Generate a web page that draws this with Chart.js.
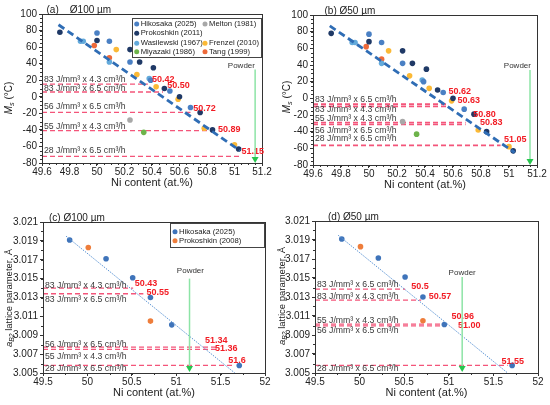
<!DOCTYPE html>
<html>
<head>
<meta charset="utf-8">
<script src="https://cdn.jsdelivr.net/npm/chart.js@4.4.0/dist/chart.umd.min.js"></script>
<style>
  body { margin: 0; background: #fff; width: 550px; height: 405px; position: relative; overflow: hidden; }
  .panel { position: absolute; }
</style>
</head>
<body>
<div class="panel" style="left:0;top:0;width:275px;height:200px"><canvas id="chartA"></canvas></div>
<div class="panel" style="left:275px;top:0;width:275px;height:200px"><canvas id="chartB"></canvas></div>
<div class="panel" style="left:0;top:200px;width:275px;height:205px"><canvas id="chartC"></canvas></div>
<div class="panel" style="left:275px;top:200px;width:275px;height:205px"><canvas id="chartD"></canvas></div>
<script>
// ---- Ms literature data, shared by panels (a) and (b) ----
var hikosakaNi = [50.0, 50.09, 50.24, 50.39, 50.53, 50.68];
var hikosakaMs = [77, 67, 42, 20, 7, -13];
var prok2011Ni = [49.73, 50.0, 50.24, 50.31, 50.41, 50.49, 50.60, 50.75, 50.84, 51.03];
var prok2011Ms = [78, 68, 57, 42, 35, 10, 0, -19, -40, -63];
var wasilewskiNi = [49.88, 49.90, 50.09, 50.38];
var wasilewskiMs = [67, 67, 42, 22];
var miyazakiNi = [50.34];
var miyazakiMs = [-43];
var meltonNi = [50.24];
var meltonMs = [-28];
var frenzelNi = [50.14, 50.29, 50.43, 50.59, 50.78, 51.0];
var frenzelMs = [57, 27, 12, -3, -38, -58];
var tangNi = [49.98, 50.09];
var tangMs = [62, 47];
var msFitNi = [49.72, 51.04];
var msFitMs = [87, -65];

// ---- B2 lattice parameter data, panels (c) and (d) ----
var latHikosakaNi = [49.80, 50.21, 50.51, 50.71, 50.95, 51.71];
var latHikosakaA = [3.0191, 3.0171, 3.0151, 3.0130, 3.0101, 3.0058];
var latProkNi = [50.01, 50.71];
var latProkA = [3.0183, 3.0105];
var latFitNi = [49.76, 51.66];
var latFitA = [3.0195, 3.005];

// ---- tick values ----
var msNiTicks = [49.6, 49.8, 50, 50.2, 50.4, 50.6, 50.8, 51, 51.2];
var msTicks = [-80, -60, -40, -20, 0, 20, 40, 60, 80, 100];
var latNiTicks = [49.5, 50, 50.5, 51, 51.5, 52];
var latTicks = [3.005, 3.007, 3.009, 3.011, 3.013, 3.015, 3.017, 3.019, 3.021];

// ---- printed parts: level, end of line, recipe, estimated Ni ----
var powderNi = 51.15;

var recipesA = ['83 J/mm³ x 4.3 cm³/h', '83 J/mm³ x 6.5 cm³/h', '56 J/mm³ x 6.5 cm³/h', '55 J/mm³ x 4.3 cm³/h', '28 J/mm³ x 6.5 cm³/h'];
var levelsA = [15.4, 5.8, -18.9, -41, -72];
var levelEndsA = [50.37, 50.48, 50.68, 50.85, 51.04];
var niTextA = ['50.42', '50.50', '50.72', '50.89', '51.15'];

var recipesB = ['83 J/mm³ x 6.5 cm³/h', '83 J/mm³ x 4.3 cm³/h', '55 J/mm³ x 4.3 cm³/h', '56 J/mm³ x 6.5 cm³/h', '28 J/mm³ x 6.5 cm³/h'];
var levelsB = [-7, -9.6, -29.2, -31.4, -56.4];
var levelEndsB = [50.56, 50.56, 50.69, 50.69, 50.94];
var niTextB = ['50.62', '50.63', '50.80', '50.83', '51.05'];

var recipesC = ['83 J/mm³ x 4.3 cm³/h', '83 J/mm³ x 6.5 cm³/h', '56 J/mm³ x 6.5 cm³/h', '55 J/mm³ x 4.3 cm³/h', '28 J/mm³ x 6.5 cm³/h'];
var levelsC = [3.01400, 3.01340, 3.00775, 3.0075, 3.0058];
var levelEndsC = [50.515, 50.63, 51.45, 51.45, 51.64];
var niTextC = ['50.43', '50.55', '51.34', '51.36', '51.6'];

var recipesD = ['83 J/mm³ x 6.5 cm³/h', '83 J/mm³ x 4.3 cm³/h', '55 J/mm³ x 4.3 cm³/h', '56 J/mm³ x 6.5 cm³/h', '28 J/mm³ x 6.5 cm³/h'];
var levelsD = [3.01383, 3.01267, 3.01014, 3.00996, 3.0058];
var levelEndsD = [50.51, 50.69, 50.955, 50.955, 51.66];
var niTextD = ['50.5', '50.57', '50.96', '51.00', '51.55'];

var FONT = '"Liberation Sans", Arial, sans-serif';
Chart.defaults.font.family = FONT;

function pts(xs, ys) {
  return xs.map(function(x, i) { return { x: x, y: ys[i] }; });
}

function scatterSet(label, xs, ys, color) {
  return { label: label, data: pts(xs, ys), backgroundColor: color, borderWidth: 0, pointRadius: 2.8 };
}

function levelSets(levels, ends, xmin, width) {
  return levels.map(function(v, i) {
    return {
      label: 'level' + i, data: [{ x: xmin, y: v }, { x: ends[i], y: v }],
      showLine: true, borderColor: '#f4557a', borderWidth: width, borderDash: [5, 3],
      pointRadius: 0, fill: false
    };
  });
}

function msDatasets(levels, ends, width) {
  var fit = { label: 'fit', data: pts(msFitNi, msFitMs), showLine: true, borderColor: '#2f6db5',
    borderWidth: 2.8, borderDash: [7, 4], pointRadius: 0, fill: false };
  return [fit,
    scatterSet('Hikosaka (2025)', hikosakaNi, hikosakaMs, '#4a80c4'),
    scatterSet('Prokoshkin (2011)', prok2011Ni, prok2011Ms, '#1f3966'),
    scatterSet('Wasilewski (1967)', wasilewskiNi, wasilewskiMs, '#63aadb'),
    scatterSet('Miyazaki (1986)', miyazakiNi, miyazakiMs, '#6db34a'),
    scatterSet('Melton (1981)', meltonNi, meltonMs, '#a8a8a8'),
    scatterSet('Frenzel (2010)', frenzelNi, frenzelMs, '#fbb936'),
    scatterSet('Tang (1999)', tangNi, tangMs, '#ee6a3a')
  ].concat(levelSets(levels, ends, 49.6, width));
}

function latDatasets(levels, ends) {
  var fit = { label: 'fit', data: pts(latFitNi, latFitA), showLine: true, borderColor: '#5b93d3',
    borderWidth: 1, borderDash: [1.5, 1.2], pointRadius: 0, fill: false };
  return [fit,
    scatterSet('Hikosaka (2025)', latHikosakaNi, latHikosakaA, '#3f74ba'),
    scatterSet('Prokoshkin (2008)', latProkNi, latProkA, '#ee7d3b')
  ].concat(levelSets(levels, ends, 49.5, 1.3));
}

function drawArrow(ctx, x, y1, y2) {
  ctx.strokeStyle = '#8de4a6';
  ctx.lineWidth = 1.5;
  ctx.beginPath(); ctx.moveTo(x, y1); ctx.lineTo(x, y2 - 5); ctx.stroke();
  ctx.fillStyle = '#27c64e';
  ctx.beginPath(); ctx.moveTo(x - 3.5, y2 - 6); ctx.lineTo(x + 3.5, y2 - 6); ctx.lineTo(x, y2); ctx.closePath(); ctx.fill();
}

function drawYTitle(ctx, t) {
  // t: [cx, cy, main, sub, rest, size]
  ctx.save();
  ctx.translate(t[0], t[1]);
  ctx.rotate(-Math.PI / 2);
  var s = t[5];
  var f1 = 'italic ' + s + 'px ' + FONT, f2 = 'italic ' + (s * 0.72) + 'px ' + FONT, f3 = s + 'px ' + FONT;
  ctx.font = f1; var w1 = ctx.measureText(t[2]).width;
  ctx.font = f2; var w2 = ctx.measureText(t[3]).width;
  ctx.font = f3; var w3 = ctx.measureText(t[4]).width;
  var x0 = -(w1 + w2 + w3) / 2;
  ctx.textBaseline = 'middle'; ctx.textAlign = 'left'; ctx.fillStyle = '#222';
  ctx.font = f1; ctx.fillText(t[2], x0, 0);
  ctx.font = f2; ctx.fillText(t[3], x0 + w1, s * 0.28);
  ctx.font = f3; ctx.fillText(t[4], x0 + w1 + w2, 0);
  ctx.restore();
}

function minorTicks(ctx, scale, step, horizontal, a) {
  var n = Math.round((scale.max - scale.min) / step);
  ctx.strokeStyle = '#333'; ctx.lineWidth = 1;
  ctx.beginPath();
  for (var i = 0; i <= n; i++) {
    var p = Math.round(scale.getPixelForValue(scale.min + i * step)) + 0.5;
    if (horizontal) { ctx.moveTo(p, a.bottom); ctx.lineTo(p, a.bottom + 2); }
    else { ctx.moveTo(a.left, p); ctx.lineTo(a.left - 2, p); }
  }
  ctx.stroke();
}

var decor = {
  id: 'decor',
  afterDraw: function(chart, args, o) {
    var ctx = chart.ctx, a = chart.chartArea, x = chart.scales.x, y = chart.scales.y;
    ctx.save();
    minorTicks(ctx, x, o.minorX, true, a);
    minorTicks(ctx, y, o.minorY, false, a);
    ctx.strokeStyle = '#333'; ctx.lineWidth = 1;
    ctx.strokeRect(Math.round(a.left) + 0.5, Math.round(a.top) + 0.5, Math.round(a.right - a.left), Math.round(a.bottom - a.top));

    // recipe texts
    ctx.font = '8.7px ' + FONT; ctx.fillStyle = '#3a3a3a'; ctx.textBaseline = 'middle'; ctx.textAlign = 'left';
    o.recipes.forEach(function(t, i) { ctx.fillText(t, a.left + 2, y.getPixelForValue(o.recipeY[i])); });

    // estimated Ni contents
    ctx.font = 'bold 9px ' + FONT; ctx.fillStyle = '#f21c24';
    o.niText.forEach(function(t, i) { ctx.fillText(t, x.getPixelForValue(o.niX[i]), y.getPixelForValue(o.niY[i])); });

    // powder arrow
    var px = x.getPixelForValue(powderNi);
    drawArrow(ctx, px, y.getPixelForValue(o.arrowTop), y.getPixelForValue(o.arrowTip));
    ctx.font = '8px ' + FONT; ctx.fillStyle = '#333'; ctx.textAlign = 'center';
    ctx.fillText('Powder', x.getPixelForValue(o.powderX), y.getPixelForValue(o.powderY));

    // legend
    if (o.legend) {
      var L = o.legend;
      var bx = a.right - L.w, by = a.top + L.dy;
      ctx.fillStyle = '#fff'; ctx.fillRect(bx, by, L.w, L.h);
      ctx.strokeStyle = '#444'; ctx.lineWidth = 1;
      ctx.strokeRect(Math.round(bx) + 0.5, Math.round(by) + 0.5, L.w - 1, L.h);
      ctx.font = '7.7px ' + FONT; ctx.textAlign = 'left'; ctx.textBaseline = 'middle';
      L.items.forEach(function(it) {
        var ds = chart.data.datasets.find(function(d) { return d.label === it[0]; });
        var mx = bx + L.colX[it[1]], my = by + L.rowY[it[2]];
        ctx.fillStyle = ds.backgroundColor;
        ctx.beginPath(); ctx.arc(mx, my, 2.5, 0, Math.PI * 2); ctx.fill();
        ctx.fillStyle = '#222';
        ctx.fillText(it[0], mx + 4, my);
      });
    }

    // titles
    ctx.fillStyle = '#222'; ctx.textAlign = 'left'; ctx.textBaseline = 'alphabetic';
    ctx.font = '10px ' + FONT;
    ctx.fillText(o.title, a.left + o.titleDx, a.top - 1.5);
    ctx.font = '11px ' + FONT; ctx.textAlign = 'center'; ctx.textBaseline = 'middle';
    ctx.fillText('Ni content (at.%)', (a.left + a.right) / 2, a.bottom + 20);
    drawYTitle(ctx, o.yTitle);
    ctx.restore();
  }
};

function makeChart(id, box, area, xr, yr, xTicks, yTicks, datasets, opts) {
  var axisTicks = function(vals) {
    return function(s) { s.ticks = vals.map(function(v) { return { value: v }; }); };
  };
  var gridOpts = { display: true, drawOnChartArea: false, drawTicks: true, tickLength: 3, color: '#333' };
  return new Chart(document.getElementById(id), {
    type: 'scatter',
    data: { datasets: datasets },
    options: {
      responsive: true, maintainAspectRatio: false, animation: false,
      layout: { padding: { left: 0, top: area[1], right: box[0] - area[2], bottom: 0 } },
      scales: {
        x: {
          type: 'linear', min: xr[0], max: xr[1],
          afterBuildTicks: axisTicks(xTicks),
          afterFit: function(s) { s.height = box[1] - area[3]; },
          ticks: { color: '#222', font: { size: 10 }, padding: 0, maxRotation: 0, autoSkip: false,
                   callback: function(v) { return String(v); } },
          grid: gridOpts, border: { display: false }
        },
        y: {
          type: 'linear', min: yr[0], max: yr[1],
          afterBuildTicks: axisTicks(yTicks),
          afterFit: function(s) { s.width = area[0]; },
          ticks: { color: '#222', font: { size: 10 }, padding: 2, autoSkip: false,
                   callback: function(v) { return String(v); } },
          grid: gridOpts, border: { display: false }
        }
      },
      plugins: { legend: { display: false }, tooltip: { enabled: false }, decor: opts }
    },
    plugins: [decor]
  });
}

var legendA = { w: 130, h: 39, dy: 4, colX: [4.7, 73], rowY: [6, 15.3, 25.3, 33.7],
  items: [['Hikosaka (2025)', 0, 0], ['Prokoshkin (2011)', 0, 1], ['Wasilewski (1967)', 0, 2], ['Miyazaki (1986)', 0, 3],
          ['Melton (1981)', 1, 0], ['Frenzel (2010)', 1, 2], ['Tang (1999)', 1, 3]] };
var legendC = { w: 95, h: 24, dy: 1, colX: [5], rowY: [8.7, 17.7],
  items: [['Hikosaka (2025)', 0, 0], ['Prokoshkin (2008)', 0, 1]] };

makeChart('chartA', [275, 200], [42, 14, 262, 163], [49.6, 51.2], [-80, 100], msNiTicks, msTicks,
  msDatasets(levelsA, levelEndsA, 1.3), {
    title: '(a)    Ø100 µm', titleDx: 4.5, minorX: 0.05, minorY: 5,
    recipes: recipesA, recipeY: [20.5, 9.8, -12.3, -35.7, -64.7],
    niText: niTextA, niX: [50.40, 50.51, 50.70, 50.88, 51.05], niY: [20.7, 13.8, -14.4, -39.7, -66.7],
    arrowTop: 33, arrowTip: -80, powderX: 51.05, powderY: 38,
    yTitle: [9.5, 98, 'M', 's', ' (°C)', 10], legend: legendA
  });

makeChart('chartB', [275, 200], [38, 15, 262, 165], [49.6, 51.2], [-80, 100], msNiTicks, msTicks,
  msDatasets(levelsB, levelEndsB, 1.6), {
    title: '(b) Ø50 µm', titleDx: 11.5, minorX: 0.05, minorY: 5,
    recipes: recipesB, recipeY: [-2, -13.2, -24, -38.8, -48.8],
    niText: niTextB, niX: [50.567, 50.632, 50.745, 50.792, 50.964], niY: [8, -2.8, -19.2, -28.8, -50],
    arrowTop: 34, arrowTip: -80, powderX: 51.06, powderY: 39.5,
    yTitle: [12, 97, 'M', 's', ' (°C)', 10], legend: null
  });

makeChart('chartC', [275, 205], [43, 22, 265, 173], [49.5, 52], [3.005, 3.021], latNiTicks, latTicks,
  latDatasets(levelsC, levelEndsC), {
    title: '(c) Ø100 µm', titleDx: 6, minorX: 0.25, minorY: 0.001,
    recipes: recipesC, recipeY: [3.01430, 3.01277, 3.00803, 3.00676, 3.00545],
    niText: niTextC, niX: [50.534, 50.665, 51.323, 51.436, 51.586], niY: [3.0145, 3.0135, 3.00846, 3.00757, 3.00627],
    arrowTop: 3.015, arrowTip: 3.0051, powderX: 51.16, powderY: 3.0158,
    yTitle: [9.5, 98, 'a', 'B2', ' lattice parameter, Å', 9.5], legend: legendC
  });

makeChart('chartD', [275, 205], [40, 21, 263, 173], [49.5, 52], [3.005, 3.021], latNiTicks, latTicks,
  latDatasets(levelsD, levelEndsD), {
    title: '(d) Ø50 µm', titleDx: 13, minorX: 0.25, minorY: 0.001,
    recipes: recipesD, recipeY: [3.01432, 3.01302, 3.01056, 3.0095, 3.00546],
    niText: niTextD, niX: [50.58, 50.776, 51.03, 51.104, 51.59], niY: [3.01414, 3.01302, 3.01091, 3.00996, 3.00623],
    arrowTop: 3.0151, arrowTip: 3.0051, powderX: 51.15, powderY: 3.01558,
    yTitle: [7.5, 96, 'a', 'B2', ' lattice parameter, Å', 9.5], legend: null
  });
</script>
</body>
</html>
